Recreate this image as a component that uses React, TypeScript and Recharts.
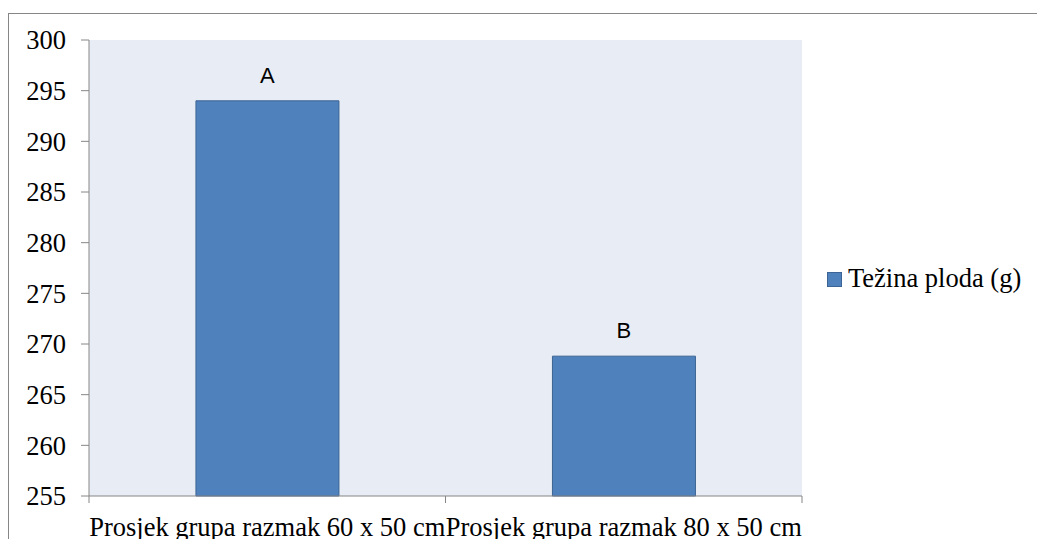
import { Bar, BarChart, CartesianGrid, LabelList, XAxis, YAxis } from "recharts";

const categories = ["Prosjek grupa razmak 60 x 50 cm", "Prosjek grupa razmak 80 x 50 cm"];
const weights = [294.0, 268.8];
const letters = ["A", "B"];
const seriesName = "Težina ploda (g)";
const yTicks = [255, 260, 265, 270, 275, 280, 285, 290, 295, 300];

const data = categories.map((name, i) => ({ name, value: weights[i], letter: letters[i] }));

const SERIF = "Liberation Serif";
const SANS = "Liberation Sans";
const FONT_SIZE = 26.5;
const AXIS = "#868686";
const BAR_FILL = "#4F81BD";
const BAR_STROKE = "#3C6494";
const X_TICK_SIZE = 7;
const X_TICK_MARGIN = 14;

// category labels centred, tick marks on the band edges (like Excel)
function CategoryTick(props: any) {
  const { x, y, payload, index, visibleTicksCount } = props;
  const half = payload?.offset ?? 0;
  const axisY = y - X_TICK_SIZE - X_TICK_MARGIN;
  const isLast = index === visibleTicksCount - 1;
  return (
    <g>
      <line x1={x - half} x2={x - half} y1={axisY} y2={axisY + X_TICK_SIZE} stroke={AXIS} />
      {isLast && <line x1={x + half} x2={x + half} y1={axisY} y2={axisY + X_TICK_SIZE} stroke={AXIS} />}
      <text x={x} y={y} dy="0.71em" textAnchor="middle" fontSize={FONT_SIZE} fontFamily={SERIF} fill="#000">
        {payload.value}
      </text>
    </g>
  );
}

function ValueTick(props: any) {
  const { x, y, payload } = props;
  return (
    <text x={x} y={y} dy="0.35em" textAnchor="end" fontSize={FONT_SIZE} fontFamily={SERIF} fill="#000">
      {payload.value}
    </text>
  );
}

export default function App() {
  return (
    <div style={{ position: "fixed", left: 0, top: 0, width: 1037, height: 539, overflow: "hidden", background: "#fff" }}>
      <div
        style={{
          position: "absolute",
          left: 8,
          top: 13,
          width: 1100,
          height: 600,
          border: `1px solid ${AXIS}`,
          boxSizing: "border-box",
        }}
      />
      <BarChart
        width={1029}
        height={531}
        data={data}
        margin={{ top: 32, right: 235, bottom: 0, left: 0 }}
        barCategoryGap="30%"
        style={{ position: "absolute", left: 8, top: 8, overflow: "visible" }}
      >
        <CartesianGrid horizontal={false} vertical={false} fill="#E8ECF4" />
        <XAxis
          dataKey="name"
          height={43}
          axisLine={{ stroke: AXIS }}
          tickLine={false}
          tickSize={X_TICK_SIZE}
          tickMargin={X_TICK_MARGIN}
          interval={0}
          tick={<CategoryTick />}
        />
        <YAxis
          width={81}
          domain={[255, 300]}
          ticks={yTicks}
          interval={0}
          axisLine={{ stroke: AXIS }}
          tickLine={{ stroke: AXIS }}
          tickSize={8}
          tickMargin={15}
          tick={<ValueTick />}
        />
        <Bar dataKey="value" name={seriesName} fill={BAR_FILL} stroke={BAR_STROKE} isAnimationActive={false}>
          <LabelList dataKey="letter" position="top" offset={18} fill="#000" fontSize={22} fontFamily={SANS} />
        </Bar>
      </BarChart>
      <div
        style={{
          position: "absolute",
          left: 827,
          top: 272,
          width: 13,
          height: 13,
          background: BAR_FILL,
          border: `1px solid ${BAR_STROKE}`,
        }}
      />
      <div
        style={{
          position: "absolute",
          left: 848,
          top: 265,
          fontSize: FONT_SIZE,
          lineHeight: `${FONT_SIZE}px`,
          fontFamily: SERIF,
          color: "#000",
          whiteSpace: "nowrap",
        }}
      >
        {seriesName}
      </div>
    </div>
  );
}
